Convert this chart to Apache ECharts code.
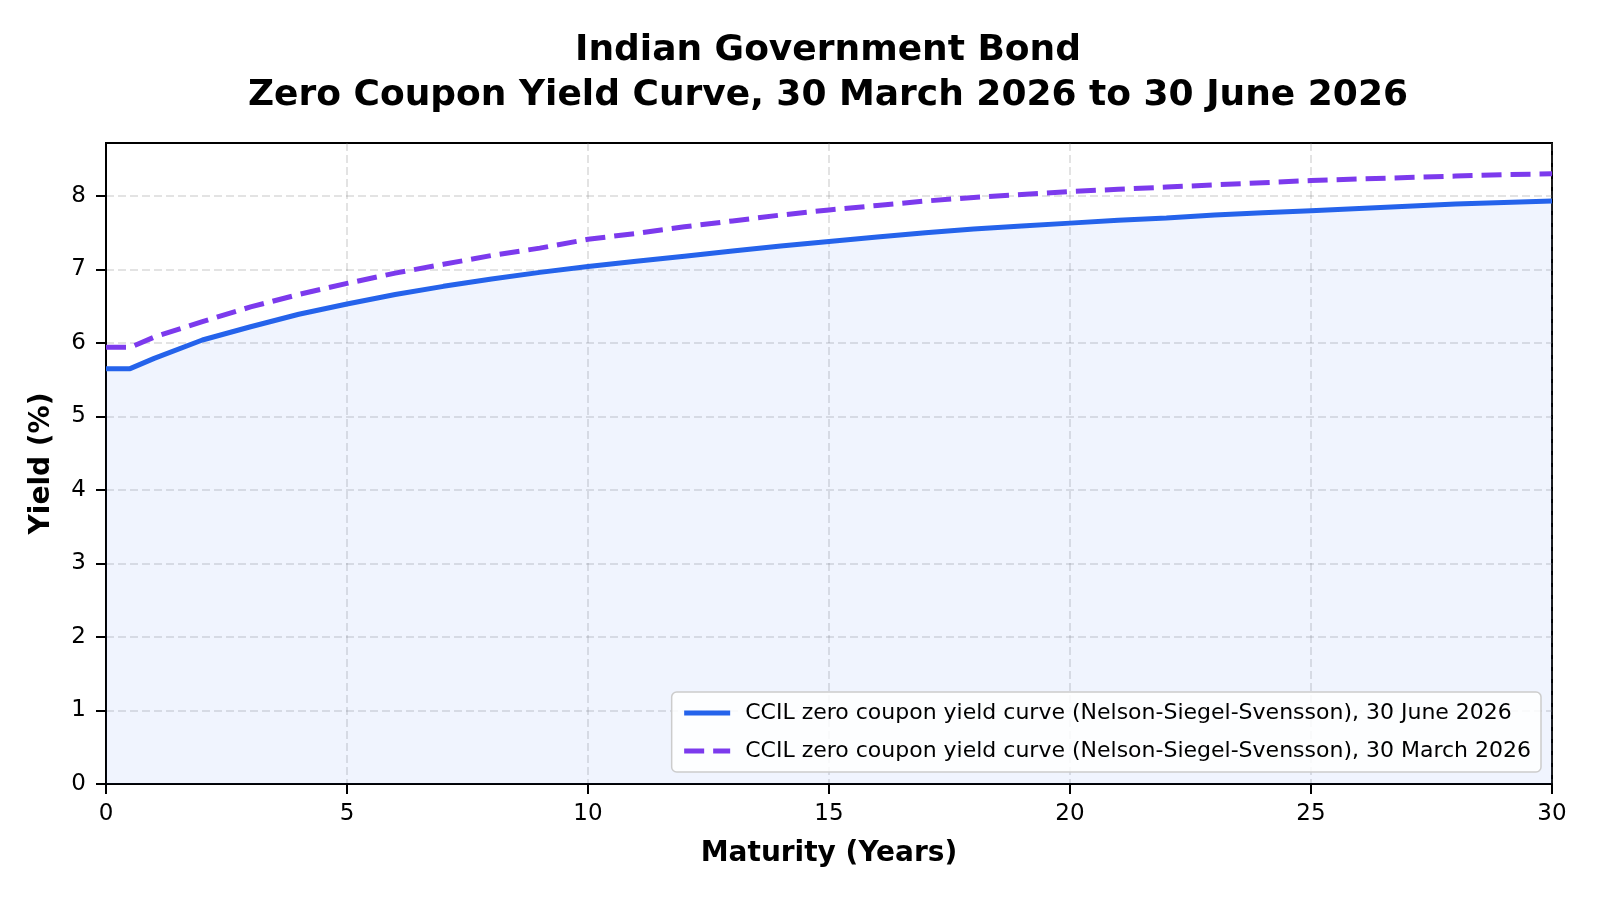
<!DOCTYPE html>
<html>
<head>
<meta charset="utf-8">
<title>Indian Government Bond Zero Coupon Yield Curve</title>
<script src="https://cdn.jsdelivr.net/npm/echarts@6/dist/echarts.min.js"></script>
<style>
	html, body { margin: 0; padding: 0; background: #fff; }
	#chart { width: 1600px; height: 900px; }
</style>
</head>
<body>
<div id="chart"></div>
<script type="text/javascript">
	// maturities in years
	var maturities = [0, 0.5, 1, 2, 3, 4, 5, 6, 7, 8, 9, 10, 11, 12, 13, 14, 15,
		16, 17, 18, 19, 20, 21, 22, 23, 24, 25, 26, 27, 28, 29, 30];
	// 30 June 2026 curve (%)
	var yieldJune = [5.65, 5.65, 5.79, 6.04, 6.22, 6.39, 6.53, 6.66, 6.77, 6.87, 6.96, 7.04, 7.11, 7.18, 7.25, 7.32, 7.38,
		7.44, 7.50, 7.55, 7.59, 7.63, 7.67, 7.70, 7.74, 7.77, 7.80, 7.83, 7.86, 7.89, 7.91, 7.93];
	// 30 March 2026 curve (%)
	var yieldMarch = [5.94, 5.94, 6.08, 6.29, 6.49, 6.66, 6.81, 6.95, 7.07, 7.19, 7.29, 7.41, 7.49, 7.58, 7.66, 7.74, 7.81,
		7.87, 7.93, 7.98, 8.02, 8.06, 8.09, 8.12, 8.15, 8.18, 8.21, 8.23, 8.25, 8.27, 8.29, 8.30];
	var yTicks = [0, 1, 2, 3, 4, 5, 6, 7, 8];
	var nameJune = 'CCIL zero coupon yield curve (Nelson-Siegel-Svensson), 30 June 2026';
	var nameMarch = 'CCIL zero coupon yield curve (Nelson-Siegel-Svensson), 30 March 2026';

	function pairs(ys) {
		var out = [];
		for (var i = 0; i < maturities.length; i++) out.push([maturities[i], ys[i]]);
		return out;
	}

	var font = 'DejaVu Sans';
	var gridLine = { show: true, lineStyle: { color: 'rgba(128,128,128,0.22)', width: 2, type: [8, 4] } };

	var myChart = echarts.init(document.getElementById('chart'), null, { renderer: 'canvas' });
	var option = {
		animation: false,
		backgroundColor: '#ffffff',
		textStyle: { fontFamily: font },
		title: {
			// centred over the plot area (x = 828), not the page
			text: 'Indian Government Bond\nZero Coupon Yield Curve, 30 March 2026 to 30 June 2026',
			left: 828,
			textAlign: 'center',
			top: 28,
			padding: 0,
			textStyle: { fontFamily: font, fontSize: 36, fontWeight: 'bold', color: '#000', lineHeight: 45 }
		},
		grid: {
			left: 106, right: 48, top: 143, bottom: 116,
			show: true, borderColor: '#000', borderWidth: 2, backgroundColor: 'transparent'
		},
		legend: {
			orient: 'vertical',
			right: 59,
			bottom: 128,
			data: [nameJune, nameMarch],
			itemWidth: 46,
			itemHeight: 14,
			itemGap: 14,
			padding: [9, 10, 9, 10],
			backgroundColor: 'rgba(255,255,255,0.85)',
			borderColor: '#cccccc',
			borderWidth: 1.5,
			borderRadius: 5,
			lineStyle: { width: 5 },
			itemStyle: { opacity: 0 },
			textStyle: { fontFamily: font, fontSize: 22, color: '#000', lineHeight: 24, padding: [0, 0, 0, 10] }
		},
		xAxis: {
			type: 'value',
			min: 0, max: 30, interval: 5,
			name: 'Maturity (Years)',
			nameLocation: 'middle',
			nameGap: 56,
			nameTextStyle: { fontFamily: font, fontSize: 28, fontWeight: 'bold', color: '#000' },
			axisLine: { show: true, onZero: false, lineStyle: { color: '#000', width: 2 } },
			axisTick: { show: true, inside: false, length: 10, lineStyle: { color: '#000', width: 2 } },
			axisLabel: { fontFamily: font, fontSize: 23, color: '#000', margin: 19 },
			splitLine: gridLine
		},
		yAxis: {
			type: 'value',
			min: 0, max: 8.72, interval: 1,
			name: 'Yield (%)',
			nameLocation: 'middle',
			nameGap: 50,
			nameRotate: 90,
			nameTextStyle: { fontFamily: font, fontSize: 28, fontWeight: 'bold', color: '#000' },
			axisLine: { show: true, onZero: false, lineStyle: { color: '#000', width: 2 } },
			axisTick: { show: true, inside: false, length: 10, customValues: yTicks, lineStyle: { color: '#000', width: 2 } },
			axisLabel: { fontFamily: font, fontSize: 23, color: '#000', margin: 20, customValues: yTicks },
			splitLine: gridLine
		},
		series: [
			{
				name: nameJune,
				type: 'line',
				symbol: 'none',
				data: pairs(yieldJune),
				lineStyle: { color: '#2563eb', width: 5 },
				itemStyle: { color: '#2563eb' },
				areaStyle: { color: 'rgba(37,99,235,0.1)', origin: 'start' },
				z: 3
			},
			{
				name: nameMarch,
				type: 'line',
				symbol: 'none',
				data: pairs(yieldMarch),
				lineStyle: { color: '#7c3aed', width: 5, type: [20, 9] },
				itemStyle: { color: '#7c3aed' },
				z: 4
			}
		]
	};
	myChart.setOption(option);
</script>
</body>
</html>
